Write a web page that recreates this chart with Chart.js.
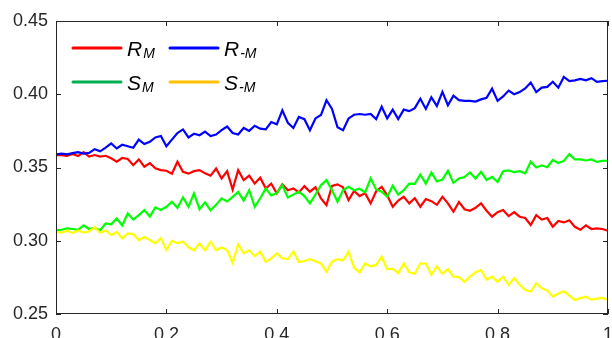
<!DOCTYPE html>
<html>
<head>
<meta charset="utf-8">
<script src="https://cdn.jsdelivr.net/npm/chart.js@4"></script>
<style>
html,body{margin:0;padding:0;background:#fff;}
#wrap{width:612px;height:338px;}
</style>
</head>
<body>
<div id="wrap"><canvas id="c" width="612" height="338"></canvas></div>
<script>
const xValues = [0,0.01,0.02,0.03,0.04,0.05,0.06,0.07,0.08,0.09,0.1,0.11,0.12,0.13,0.14,0.15,0.16,0.17,0.18,0.19,0.2,0.21,0.22,0.23,0.24,0.25,0.26,0.27,0.28,0.29,0.3,0.31,0.32,0.33,0.34,0.35,0.36,0.37,0.38,0.39,0.4,0.41,0.42,0.43,0.44,0.45,0.46,0.47,0.48,0.49,0.5,0.51,0.52,0.53,0.54,0.55,0.56,0.57,0.58,0.59,0.6,0.61,0.62,0.63,0.64,0.65,0.66,0.67,0.68,0.69,0.7,0.71,0.72,0.73,0.74,0.75,0.76,0.77,0.78,0.79,0.8,0.81,0.82,0.83,0.84,0.85,0.86,0.87,0.88,0.89,0.9,0.91,0.92,0.93,0.94,0.95,0.96,0.97,0.98,0.99,1];

const R_M = [0.3585,0.3585,0.358,0.3592,0.3578,0.3605,0.3575,0.3585,0.3575,0.358,0.3563,0.354,0.3565,0.3558,0.3516,0.3555,0.3505,0.353,0.3495,0.3482,0.3478,0.3458,0.3539,0.347,0.3458,0.3475,0.3482,0.346,0.3445,0.3493,0.3425,0.3475,0.335,0.3482,0.3414,0.3445,0.339,0.343,0.3357,0.339,0.3323,0.3385,0.3345,0.3357,0.333,0.3373,0.3335,0.3365,0.3289,0.3243,0.3375,0.3385,0.3365,0.3278,0.334,0.3305,0.3325,0.3255,0.3338,0.3368,0.331,0.3232,0.3275,0.33,0.3255,0.329,0.3232,0.3285,0.327,0.3245,0.33,0.3255,0.3198,0.3265,0.3215,0.3205,0.3225,0.3255,0.3205,0.3164,0.3195,0.321,0.3168,0.3195,0.3164,0.3155,0.3108,0.3175,0.3145,0.3155,0.3096,0.3135,0.3125,0.314,0.3095,0.3075,0.3105,0.308,0.3085,0.308,0.3068];

const R_negM = [0.359,0.3595,0.359,0.3598,0.3605,0.3595,0.36,0.3625,0.361,0.3635,0.3665,0.363,0.3655,0.3645,0.3635,0.369,0.366,0.3675,0.3705,0.3715,0.3645,0.369,0.3735,0.376,0.3705,0.373,0.372,0.3745,0.3715,0.3725,0.3755,0.378,0.3735,0.3725,0.377,0.375,0.3785,0.3765,0.376,0.381,0.3795,0.389,0.3805,0.377,0.3845,0.383,0.3755,0.3835,0.3858,0.3959,0.39,0.3775,0.3755,0.3835,0.386,0.3865,0.386,0.3865,0.383,0.3915,0.3835,0.3895,0.383,0.3895,0.3885,0.3905,0.397,0.39,0.398,0.392,0.4016,0.3925,0.399,0.396,0.3955,0.3955,0.395,0.3965,0.3975,0.4038,0.3955,0.3985,0.4025,0.4,0.4015,0.404,0.408,0.4015,0.4045,0.405,0.4085,0.4045,0.4118,0.409,0.4095,0.4105,0.4095,0.411,0.4085,0.409,0.4092];

const S_M = [0.3073,0.3075,0.3085,0.308,0.3075,0.3105,0.308,0.3088,0.3072,0.3118,0.3112,0.3152,0.3105,0.3186,0.3145,0.3175,0.3209,0.3165,0.3228,0.321,0.3232,0.3266,0.3225,0.3295,0.3232,0.3323,0.3215,0.3262,0.3208,0.3245,0.3289,0.3268,0.33,0.3334,0.3275,0.3345,0.3232,0.329,0.3357,0.331,0.3325,0.3379,0.3295,0.3315,0.3335,0.3305,0.3255,0.3315,0.3379,0.3414,0.3345,0.3266,0.3345,0.3368,0.3345,0.3355,0.333,0.3425,0.335,0.3335,0.33,0.3375,0.3315,0.3345,0.339,0.3388,0.3452,0.339,0.3466,0.3405,0.3418,0.3478,0.3395,0.3425,0.3435,0.3466,0.3425,0.347,0.3415,0.3436,0.3402,0.3475,0.348,0.3468,0.3475,0.346,0.354,0.35,0.3515,0.3502,0.3551,0.353,0.3545,0.3591,0.3555,0.3555,0.3548,0.3555,0.3538,0.3545,0.3546];

const S_negM = [0.3061,0.3055,0.3068,0.3052,0.307,0.3055,0.3065,0.3092,0.3055,0.307,0.3039,0.306,0.3016,0.305,0.3045,0.3005,0.3025,0.3005,0.2982,0.3018,0.2937,0.3,0.2982,0.2995,0.2955,0.2935,0.2982,0.2935,0.2993,0.2935,0.2955,0.2935,0.285,0.2977,0.2915,0.2935,0.2895,0.2925,0.2855,0.288,0.2915,0.288,0.2875,0.2926,0.2855,0.2862,0.2875,0.286,0.2845,0.2789,0.2857,0.2875,0.2865,0.2926,0.2815,0.2784,0.2845,0.2825,0.2835,0.289,0.2805,0.281,0.2778,0.2845,0.2785,0.2775,0.2846,0.2845,0.2768,0.2825,0.2775,0.2807,0.2755,0.2752,0.272,0.2755,0.2785,0.28,0.2735,0.2755,0.272,0.2755,0.2698,0.2745,0.27,0.2665,0.2652,0.271,0.2675,0.266,0.2618,0.264,0.2655,0.2625,0.2596,0.2608,0.2618,0.2598,0.2605,0.261,0.2596];

const xTickValues = [0,0.2,0.4,0.6,0.8,1];
const xTickLabels = ['0','0.2','0.4','0.6','0.8','1'];
const yTickValues = [0.25,0.30,0.35,0.40,0.45];
const yTickLabels = ['0.25','0.30','0.35','0.40','0.45'];

const seriesNames = [
  {main:'R', sub:'M'},
  {main:'R', sub:'-M'},
  {main:'S', sub:'M'},
  {main:'S', sub:'-M'}
];
const lineColors = ['#ff0000','#0000ff','#00ff00','#ffff00'];
const legendColors = ['#ff0000','#0000ff','#00b050','#ffc000'];

function pts(ys){ return ys.map((y,i)=>({x:xValues[i], y:y})); }

const FONT = '"Liberation Sans", Arial, Helvetica, sans-serif';
const AXIS_COLOR = '#262626';

const boxPlugin = {
  id:'box',
  afterDraw(chart){
    const ctx = chart.ctx, a = chart.chartArea;
    const xs = chart.scales.x, ys = chart.scales.y;
    ctx.save();
    ctx.strokeStyle = AXIS_COLOR;
    ctx.lineWidth = 1;
    ctx.strokeRect(Math.round(a.left)+0.5, Math.round(a.top)+0.5, Math.round(a.right-a.left)-1, Math.round(a.bottom-a.top)-1);
    ctx.beginPath();
    const tl = 5;
    xTickValues.forEach(v=>{
      const px = Math.round(xs.getPixelForValue(v))+0.5;
      ctx.moveTo(px, a.bottom); ctx.lineTo(px, a.bottom - tl);
      ctx.moveTo(px, a.top); ctx.lineTo(px, a.top + tl);
    });
    yTickValues.forEach(v=>{
      const py = Math.round(ys.getPixelForValue(v))+0.5;
      ctx.moveTo(a.left, py); ctx.lineTo(a.left + tl, py);
      ctx.moveTo(a.right, py); ctx.lineTo(a.right - tl, py);
    });
    ctx.stroke();
    ctx.restore();
  }
};

const legendPlugin = {
  id:'customLegend',
  afterDraw(chart){
    const ctx = chart.ctx;
    const cols = [73, 170];
    const rows = [48, 82];
    const lineLen = 48;
    ctx.save();
    seriesNames.forEach((s,i)=>{
      const cx = cols[i%2], cy = rows[Math.floor(i/2)];
      ctx.strokeStyle = legendColors[i];
      ctx.lineWidth = 3;
      ctx.lineCap = 'round';
      ctx.beginPath();
      ctx.moveTo(cx, cy); ctx.lineTo(cx+lineLen, cy);
      ctx.stroke();
      ctx.fillStyle = '#000';
      ctx.textBaseline = 'alphabetic';
      ctx.textAlign = 'left';
      ctx.font = 'italic 21px ' + FONT;
      const tx = cx + lineLen + 6;
      const base = cy + 8;
      ctx.fillText(s.main, tx, base);
      const w = ctx.measureText(s.main).width;
      ctx.font = 'italic 14px ' + FONT;
      ctx.fillText(s.sub, tx + w + 1, base + 2);
    });
    ctx.restore();
  }
};

const datasets = [R_M, R_negM, S_M, S_negM].map((ys,i)=>({
  label: seriesNames[i].main + seriesNames[i].sub,
  data: pts(ys),
  borderColor: lineColors[i],
  backgroundColor: lineColors[i],
  borderWidth: 2.2,
  pointRadius: 0,
  tension: 0,
  fill: false,
  order: 4 - i
}));

new Chart(document.getElementById('c'), {
  type:'line',
  data:{ datasets },
  options:{
    responsive:false,
    animation:false,
    devicePixelRatio:1,
    layout:{ padding:{ top:21, right:4, left:0, bottom:0 } },
    plugins:{ legend:{display:false}, tooltip:{enabled:false} },
    scales:{
      x:{
        type:'linear', min:0, max:1,
        grid:{ display:false, drawTicks:false },
        border:{ display:false },
        afterBuildTicks(scale){ scale.ticks = xTickValues.map(v=>({value:v})); },
        afterFit(scale){ scale.height = 24; scale.paddingLeft = 0; scale.paddingRight = 0; },
        ticks:{
          padding:10, color:AXIS_COLOR, maxRotation:0, autoSkip:false,
          font:{ family:FONT, size:18 },
          callback:(v,i)=>xTickLabels[i]
        }
      },
      y:{
        type:'linear', min:0.25, max:0.45,
        grid:{ display:false, drawTicks:false },
        border:{ display:false },
        afterBuildTicks(scale){ scale.ticks = yTickValues.map(v=>({value:v})); },
        afterFit(scale){ scale.width = 56; scale.paddingTop = 0; scale.paddingBottom = 0; },
        ticks:{
          padding:8, color:AXIS_COLOR, autoSkip:false,
          font:{ family:FONT, size:18 },
          callback:(v,i)=>yTickLabels[i]
        }
      }
    }
  },
  plugins:[boxPlugin, legendPlugin]
});
</script>
</body>
</html>
